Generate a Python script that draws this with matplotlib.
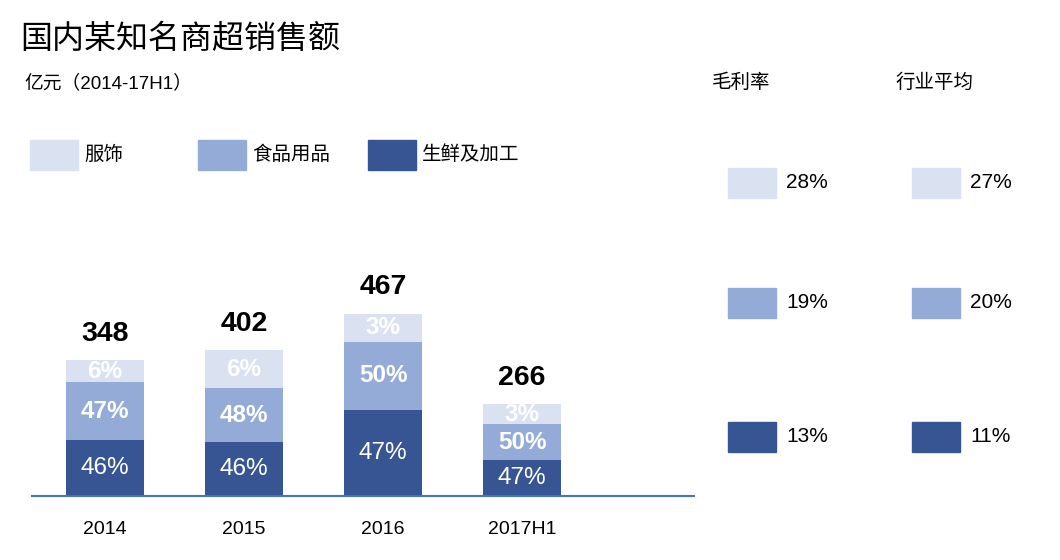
import matplotlib
matplotlib.use("Agg")
import matplotlib.pyplot as plt
from matplotlib.patches import Rectangle

plt.rcParams["font.family"] = ["Liberation Sans", "Noto Sans CJK SC", "DejaVu Sans"]

# ── data ──────────────────────────────────────────────────────────────
years = ["2014", "2015", "2016", "2017H1"]
totals = [348, 402, 467, 266]
segments = ["生鲜及加工", "食品用品", "服饰"]          # bottom -> top
# segment heights as drawn (亿元 scale)
fresh = [143, 138, 220, 92]
food = [148, 138, 174, 92]
apparel = [56, 97, 72, 51]
fresh_pct = ["46%", "46%", "47%", "47%"]
food_pct = ["47%", "48%", "50%", "50%"]
apparel_pct = ["6%", "6%", "3%", "3%"]

# gross margin table (top row = 服饰)
margin_heads = ["毛利率", "行业平均"]
margin_own = ["28%", "19%", "13%"]
margin_ind = ["27%", "20%", "11%"]

c_light, c_mid, c_dark = "#DAE2F1", "#94ABD7", "#375592"
colors = [c_dark, c_mid, c_light]

W, H = 1060, 560
fig = plt.figure(figsize=(W / 100, H / 100), dpi=100)


def px(x, y):
    return x / W, 1 - y / H


# ── bars ──────────────────────────────────────────────────────────────
ax = fig.add_axes([32 / W, (H - 496) / H, (694 - 32) / W, 396 / H])
xs = range(len(years))
bw = 0.56
bottom = [0] * len(years)
for vals, labs, col, weight in [(fresh, fresh_pct, c_dark, "normal"),
                                (food, food_pct, c_mid, "bold"),
                                (apparel, apparel_pct, c_light, "bold")]:
    ax.bar(xs, vals, bw, bottom=bottom, color=col, zorder=2)
    for x, v, b, lab in zip(xs, vals, bottom, labs):
        ax.text(x, b + v / 2, lab, ha="center", va="center", color="white",
                fontsize=17.5, fontweight=weight)
    bottom = [b + v for b, v in zip(bottom, vals)]

for x, top, t in zip(xs, bottom, totals):
    ax.annotate(str(t), (x, top), xytext=(0, 14), textcoords="offset points",
                ha="center", va="baseline", fontsize=20.5, fontweight="bold")

ax.set_xlim(-0.525, 4.237)
ax.set_ylim(0, 1013)
ax.set_xticks(list(xs))
ax.set_xticklabels(years, fontsize=14)
ax.tick_params(axis="x", length=0, pad=18)
ax.set_yticks([])
for s in ["top", "left", "right"]:
    ax.spines[s].set_visible(False)
ax.spines["bottom"].set_color("#4472C4")
ax.spines["bottom"].set_linewidth(1.5)

# ── titles ────────────────────────────────────────────────────────────
fig.text(*px(20, 40), "国内某知名商超销售额", fontsize=23, va="center")
fig.text(*px(24, 83), "亿元（2014-17H1）", fontsize=13.5, va="center")

# ── legend ────────────────────────────────────────────────────────────
leg_x = [30, 198, 368]
for lx, name, col in zip(leg_x, segments[::-1], colors[::-1]):
    fig.patches.append(Rectangle(px(lx, 170), 48 / W, 30 / H, color=col,
                                 transform=fig.transFigure))
    fig.text(*px(lx + 54, 155), name, fontsize=14, va="center")

# ── margin table ──────────────────────────────────────────────────────
col_x = [728, 912]
row_y = [183, 303, 437]
row_colors = [c_light, c_mid, c_dark]
fig.text(*px(712, 83), margin_heads[0], fontsize=14, va="center")
fig.text(*px(895, 83), margin_heads[1], fontsize=14, va="center")
for cx, vals in zip(col_x, [margin_own, margin_ind]):
    for ry, v, col in zip(row_y, vals, row_colors):
        fig.patches.append(Rectangle(px(cx, ry + 15), 48 / W, 30 / H,
                                     color=col, transform=fig.transFigure))
        fig.text(*px(cx + 58, ry), v, fontsize=15, va="center")

fig.savefig("out.png", dpi=100)
